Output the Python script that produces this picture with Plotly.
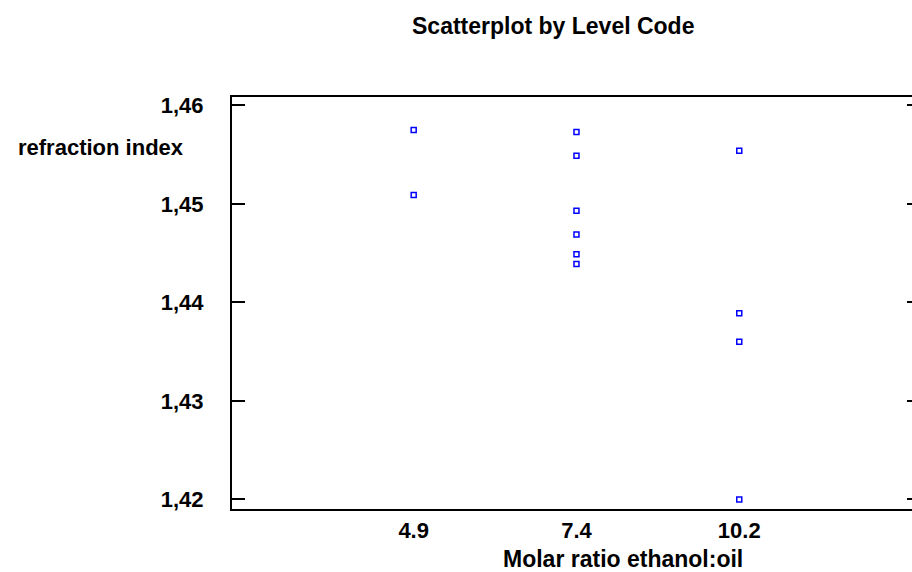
import plotly.graph_objects as go

categories = ["4.9", "7.4", "10.2"]
x_vals = ["4.9", "4.9",
          "7.4", "7.4", "7.4", "7.4", "7.4", "7.4",
          "10.2", "10.2", "10.2", "10.2"]
y_vals = [1.4575, 1.4509,
          1.4573, 1.4549, 1.4493, 1.4469, 1.4449, 1.4439,
          1.4554, 1.4389, 1.4360, 1.4200]
y_ticks = [1.42, 1.43, 1.44, 1.45, 1.46]

FONT = "Liberation Sans, Arial, sans-serif"

fig = go.Figure()
fig.add_trace(go.Scatter(
    x=x_vals, y=y_vals, mode="markers",
    marker=dict(symbol="square-open", size=5, color="#0000ff",
                line=dict(width=1.5, color="#0000ff")),
    showlegend=False, cliponaxis=False,
))
# right-side tick marks
fig.add_trace(go.Scatter(x=[categories[0]], y=[y_ticks[0]], yaxis="y2",
                         mode="markers", marker=dict(opacity=0), showlegend=False,
                         hoverinfo="skip"))

fig.update_layout(
    width=912, height=572,
    margin=dict(l=232, r=0, t=97, b=62.5),
    paper_bgcolor="white", plot_bgcolor="white",
    separators=",.",
    font=dict(family=FONT, color="black"),
    xaxis=dict(type="category", categoryarray=categories, categoryorder="array",
               range=[-1.116, 3.061], showgrid=False, zeroline=False,
               showline=True, linewidth=2, linecolor="black", mirror=True,
               ticks="", tickfont=dict(size=22, family=FONT, weight="bold"),
               ticklabelstandoff=1),
    yaxis=dict(range=[1.41903, 1.46086], tickvals=y_ticks, tickformat=".2f",
               showgrid=False, zeroline=False, showline=True, linewidth=2,
               linecolor="black", ticks="inside", ticklen=13, tickwidth=1.5,
               tickcolor="black", tickfont=dict(size=22, family=FONT, weight="bold"),
               ticklabelstandoff=22),
    yaxis2=dict(overlaying="y", matches="y", side="right", anchor="x",
                tickvals=y_ticks, showticklabels=False, showgrid=False,
                zeroline=False, showline=False, ticks="inside", ticklen=5,
                tickwidth=1.5, tickcolor="black"),
    annotations=[
        dict(text="<b>Scatterplot by Level Code</b>", xref="paper", yref="paper",
             x=553, y=26, showarrow=False, font=dict(size=23, family=FONT)),
        dict(text="<b>refraction index</b>", xref="paper", yref="paper",
             x=101, y=148, showarrow=False, font=dict(size=22, family=FONT)),
        dict(text="<b>Molar ratio ethanol:oil</b>", xref="paper", yref="paper",
             x=623, y=560, showarrow=False, font=dict(size=23, family=FONT)),
    ],
)
# convert pixel positions for annotations to paper coordinates
pw, ph = 912 - 232 - 0, 572 - 97 - 62.5
for a in fig.layout.annotations:
    a.x = (a.x - 232) / pw
    a.y = 1 - (a.y - 97) / ph
    a.xanchor = "center"
    a.yanchor = "middle"

fig.write_html("out.html")
